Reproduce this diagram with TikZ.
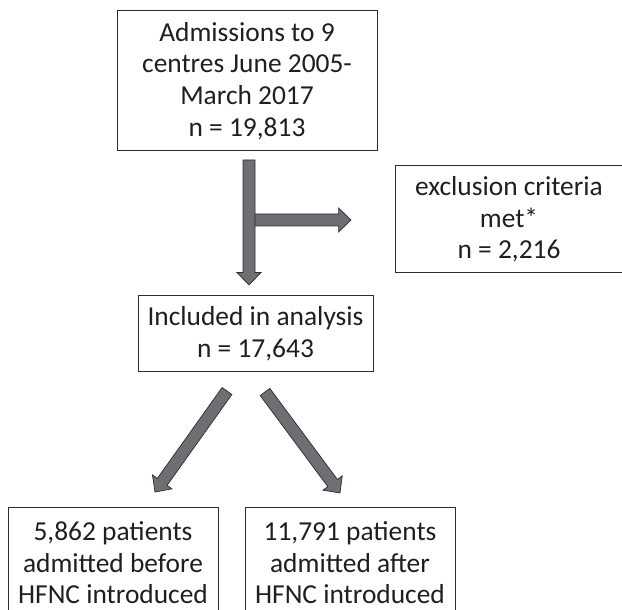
\documentclass[tikz,border=0pt]{standalone}
\usepackage{fontspec}
\setmainfont{Carlito}
\usetikzlibrary{calc}

\definecolor{arrowgray}{RGB}{110,111,114}
\definecolor{linegray}{RGB}{45,45,45}

% block arrow from coordinate #1 to tip #2 (uses \sw, \hw, \hl)
\newcommand{\blockarrow}[2]{%
  \coordinate (headbase) at ($(#2)!\hl!(#1)$);
  \draw[blockarrow]
    ($(#1)!\sw!90:(#2)$) -- ($(headbase)!\sw!90:(#2)$)
    -- ($(headbase)!\hw!90:(#2)$) -- (#2)
    -- ($(headbase)!\hw!-90:(#2)$) -- ($(headbase)!\sw!-90:(#2)$)
    -- ($(#1)!\sw!-90:(#2)$) -- cycle;
}

\begin{document}
\begin{tikzpicture}[
  box/.style={draw=linegray, line width=0.7pt, align=center, inner sep=0pt,
    text=black!88, font=\fontsize{19.5}{22.5}\selectfont},
  blockarrow/.style={fill=arrowgray, draw=linegray, line width=0.5pt,
    line join=miter}
]

% Layout constants
\def\sw{0.15cm} % half shaft width
\def\hw{0.30cm} % half head width
\def\hl{0.31cm} % head length

\useasboundingbox (0,0) rectangle (15.55,15.25);

%% ---- boxes -------------------------------------------------
\node[box, minimum width=6.5cm, minimum height=3.5cm] (admit)
  at (6.175,13.225)
  {Admissions to 9\\centres June 2005-\\March 2017\\n = 19,813};

\node[box, minimum width=5.7cm, minimum height=2.675cm] (excl)
  at (12.725,9.7625) {exclusion criteria\\met*\\n = 2,216};

\node[box, minimum width=5.875cm, minimum height=1.9cm] (incl)
  at (6.3875,6.9) {Included in analysis\\n = 17,643};

\node[box, minimum width=5.25cm, minimum height=2.75cm] (before)
  at (2.825,1.175) {5,862 patients\\admitted before\\HFNC introduced};

\node[box, minimum width=5.25cm, minimum height=2.75cm] (after)
  at (8.75,1.175) {11,791 patients\\admitted after\\HFNC introduced};

%% ---- arrows ------------------------------------------------
\coordinate (mainfrom)   at (6.225,11.25);
\coordinate (maintip)    at (6.225,8.125);
\coordinate (exclfrom)   at (6.225,9.75);
\coordinate (excltip)    at (8.775,9.75);
\coordinate (beforefrom) at (5.675,5.475);
\coordinate (beforetip)  at (3.875,2.95);
\coordinate (afterfrom)  at (6.625,5.45);
\coordinate (aftertip)   at (8.5,2.925);

\blockarrow{exclfrom}{excltip}
\blockarrow{mainfrom}{maintip}
\blockarrow{beforefrom}{beforetip}
\blockarrow{afterfrom}{aftertip}

\end{tikzpicture}
\end{document}
